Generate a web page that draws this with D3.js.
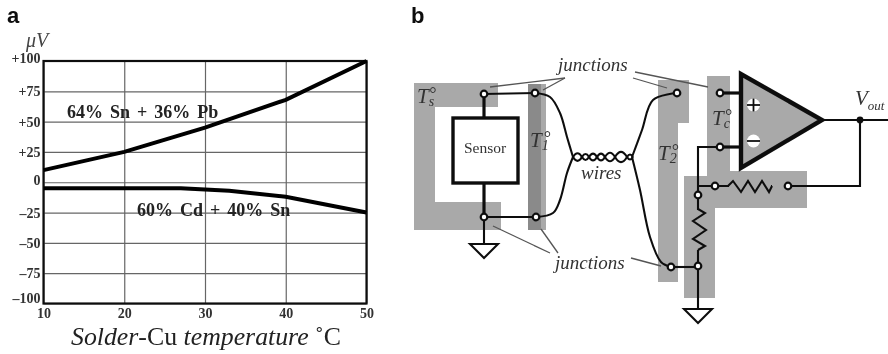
<!DOCTYPE html>
<html>
<head>
<meta charset="utf-8">
<style>
  html, body { margin: 0; padding: 0; background: #fff; }
  svg { display: block; }
  text { font-family: "Liberation Serif", serif; fill: #222; }
</style>
</head>
<body>
<div id="canvas"></div>
<script src="https://cdn.jsdelivr.net/npm/d3@7"></script>
<script>
// constants
const width = 888;
const height = 354;

// chart data, panel a
const xTicks = [10, 20, 30, 40, 50];
const yTicks = [100, 75, 50, 25, 0, -25, -50, -75, -100];
const snPbTemp = [10, 20, 30, 40, 50];
const snPbVolt = [10, 25, 45, 68, 100];
const cdSnTemp = [10, 20, 27, 30, 33, 40, 50];
const cdSnVolt = [-5, -5, -5, -6, -7, -12, -25];
const snPbLabel = '64% Sn + 36% Pb';
const cdSnLabel = '60% Cd + 40% Sn';

const svg = d3.select('#canvas')
    .append('svg').attr('width', width).attr('height', height);

// the source is a soft scan
const blur = svg.append('defs').append('filter').attr('id', 'soft')
    .attr('filterUnits', 'userSpaceOnUse')
    .attr('x', 0).attr('y', 0)
    .attr('width', width).attr('height', height);
blur.append('feGaussianBlur').attr('stdDeviation', 0.6);
const root = svg.append('g').attr('filter', 'url(#soft)');

root.append('rect').attr('width', width).attr('height', height).attr('fill', '#fff');

root.append('text').attr('x', 7).attr('y', 23)
    .style('font-family', '"Liberation Sans"').style('font-size', '22px').style('font-weight', 700)
    .style('fill', '#111').text('a');
root.append('text').attr('x', 411).attr('y', 23)
    .style('font-family', '"Liberation Sans"').style('font-size', '22px').style('font-weight', 700)
    .style('fill', '#111').text('b');

// ---- panel a
const xScale = d3.scaleLinear().domain([10, 50]).range([43.5, 366.5]);
const yScale = d3.scaleLinear().domain([-100, 100]).range([303.5, 61]);

const yAxis = d3.axisLeft(yScale)
    .tickValues(yTicks)
    .tickSize(-323)
    .tickPadding(3)
    .tickFormat(d => d > 0 ? '+' + d : (d < 0 ? '\u2013' + (-d) : '0'));
const xAxis = d3.axisBottom(xScale)
    .tickValues(xTicks)
    .tickSize(-242.5)
    .tickPadding(5);

const yG = root.append('g').attr('transform', 'translate(43.5,0)').call(yAxis);
const xG = root.append('g').attr('transform', 'translate(0,303.5)').call(xAxis);
[yG, xG].forEach(g => {
    g.select('.domain').remove();
    g.selectAll('line').attr('stroke', '#666').attr('stroke-width', 1.2);
    g.selectAll('text')
        .style('font-family', '"Liberation Serif"').style('font-size', '14px')
        .style('font-weight', 700).style('fill', '#333');
});
// some labels sit off their grid line in the source
yG.selectAll('text').attr('dy', d => d === 100 ? '0.12em' : d === 0 ? '0.17em' : d === -100 ? '-0.06em' : '0.32em');

root.append('rect')
    .attr('x', 43.5).attr('y', 61).attr('width', 323).attr('height', 242.5)
    .attr('fill', 'none').attr('stroke', '#111').attr('stroke-width', 2.2);

const voltLine = d3.line().x(d => xScale(d[0])).y(d => yScale(d[1]));
root.append('path').datum(d3.zip(snPbTemp, snPbVolt))
    .attr('d', voltLine).attr('fill', 'none').attr('stroke', '#000').attr('stroke-width', 4);
root.append('path').datum(d3.zip(cdSnTemp, cdSnVolt))
    .attr('d', voltLine).attr('fill', 'none').attr('stroke', '#000').attr('stroke-width', 4);

root.append('text').attr('x', 67).attr('y', 118)
    .style('font-size', '18px').style('font-weight', 700).style('word-spacing', '2.5px').text(snPbLabel);
root.append('text').attr('x', 137).attr('y', 216)
    .style('font-size', '18px').style('font-weight', 700).style('word-spacing', '2.5px').text(cdSnLabel);

root.append('text').attr('x', 26).attr('y', 47)
    .style('font-size', '20px').style('font-style', 'italic').style('fill', '#444').text('\u03bcV');

const xTitle = root.append('text').attr('x', 71).attr('y', 345)
    .style('font-size', '25.8px').style('fill', '#222');
xTitle.append('tspan').style('font-style', 'italic').text('Solder');
xTitle.append('tspan').text('-Cu ');
xTitle.append('tspan').style('font-style', 'italic').text('temperature ');
xTitle.append('tspan').text('\u02daC');

// ---- panel b, schematic
const ink = '#111';
const poly = (pts, fill) => root.append('polygon')
    .attr('points', pts.map(p => p.join(',')).join(' ')).attr('fill', fill);
const wire = (pts, w) => root.append('path')
    .attr('d', d3.line()(pts)).attr('fill', 'none').attr('stroke', ink)
    .attr('stroke-width', w || 2.1).attr('stroke-linejoin', 'miter');
const smooth = d3.line().curve(d3.curveCatmullRom.alpha(0.5));
const curve = pts => root.append('path')
    .attr('d', smooth(pts)).attr('fill', 'none').attr('stroke', ink).attr('stroke-width', 2.1);
const node = (x, y) => root.append('circle')
    .attr('cx', x).attr('cy', y).attr('r', 3.3)
    .attr('fill', '#fff').attr('stroke', ink).attr('stroke-width', 2.2);
const ground = (x, y) => root.append('polygon')
    .attr('points', `${x - 14},${y} ${x + 14},${y} ${x},${y + 14}`)
    .attr('fill', '#fff').attr('stroke', ink).attr('stroke-width', 2.1);
const leader = (a, b) => root.append('line')
    .attr('x1', a[0]).attr('y1', a[1]).attr('x2', b[0]).attr('y2', b[1])
    .attr('stroke', '#555').attr('stroke-width', 1.3);

// temperature zones
const zone = '#a9a9a9';
poly([[414, 83], [498, 83], [498, 107], [435, 107], [435, 202], [501, 202], [501, 230], [414, 230]], zone);
poly([[528, 84], [546, 84], [546, 230], [528, 230]], zone);
poly([[528, 84], [541, 84], [541, 230], [528, 230]], '#8a8a8a');
poly([[658, 80], [689, 80], [689, 123], [678, 123], [678, 282], [658, 282]], zone);
poly([[684, 176], [707, 176], [707, 76], [730, 76], [730, 171], [807, 171], [807, 208], [715, 208], [715, 298], [684, 298]], zone);

// sensor and its leads
wire([[484, 94], [484, 117]], 3.2);
wire([[484, 183], [484, 217]], 3.2);
wire([[484, 217], [484, 244]]);
wire([[484, 94], [535, 93]]);
wire([[484, 217], [536, 217]]);
root.append('rect').attr('x', 453).attr('y', 118).attr('width', 65).attr('height', 65)
    .attr('fill', '#fff').attr('stroke', ink).attr('stroke-width', 3.4);
ground(484, 244);

// wires to the amplifier
curve([[535, 93], [550, 97], [560, 113], [567, 137], [573, 157]]);
curve([[536, 217], [553, 213], [560, 200], [567, 173], [573, 157]]);
curve([[677, 93], [653, 100], [642, 130], [632, 157]]);
curve([[671, 267], [661, 262], [650, 237], [640, 190], [632, 157]]);

// twisted pair
const twist = [573, 582, 589, 597, 605, 615, 627, 633];
const twistPath = (sign) => {
    const p = d3.path();
    p.moveTo(twist[0], 157);
    twist.slice(1).forEach((x, i) => {
        const prev = twist[i];
        const up = i % 2 === 0 ? sign : -sign;
        p.quadraticCurveTo((prev + x) / 2, 157 + up * (x - prev) * 0.85, x, 157);
    });
    return p.toString();
};
[1, -1].forEach(s => root.append('path').attr('d', twistPath(s))
    .attr('fill', 'none').attr('stroke', ink).attr('stroke-width', 2.1));

// amplifier
wire([[720, 93], [741, 93]], 3.2);
wire([[720, 147], [741, 147]], 3.2);
wire([[720, 147], [698, 147], [698, 267]]);
wire([[671, 267], [698, 267]]);
wire([[698, 267], [698, 309]]);
poly([[741, 74], [741, 168], [822, 120]], zone).attr('stroke', ink).attr('stroke-width', 4.4);
wire([[822, 120], [888, 120]]);
wire([[860, 120], [860, 186], [788, 186]]);
root.append('circle').attr('cx', 860).attr('cy', 120).attr('r', 3.4).attr('fill', ink);

root.append('circle').attr('cx', 753.5).attr('cy', 105).attr('r', 6.5).attr('fill', '#fff');
root.append('circle').attr('cx', 753.5).attr('cy', 141).attr('r', 6.5).attr('fill', '#fff');
wire([[747, 105], [760, 105]], 1.8);
wire([[753.5, 98.5], [753.5, 111.5]], 1.8);
wire([[747, 141], [760, 141]], 1.8);

// resistors, painted over the straight wire with the zone colour underneath
root.append('line').attr('x1', 698).attr('y1', 210).attr('x2', 698).attr('y2', 250)
    .attr('stroke', zone).attr('stroke-width', 4);
wire([[698, 186], [772, 186]]);
root.append('line').attr('x1', 729).attr('y1', 186).attr('x2', 771).attr('y2', 186)
    .attr('stroke', zone).attr('stroke-width', 4);
wire([[698, 209], [705, 213], [693, 221], [706, 230], [693, 239], [705, 246], [698, 250]]);
wire([[728, 186], [733, 181], [741, 192], [748, 181], [755, 192], [762, 181], [769, 192], [772, 186]]);

ground(698, 309);
[[484, 94], [535, 93], [484, 217], [536, 217], [677, 93], [671, 267], [720, 93], [720, 147],
    [698, 195], [698, 266], [715, 186], [788, 186]].forEach(p => node(p[0], p[1]));

// call-outs
leader([490, 87], [565, 78]);
leader([543, 90], [565, 78]);
leader([635, 72], [708, 87]);
leader([633, 78], [667, 88]);
leader([493, 226], [550, 253]);
leader([541, 229], [558, 253]);
leader([631, 258], [661, 266]);

const italic = (x, y, size, t) => root.append('text').attr('x', x).attr('y', y)
    .style('font-size', size + 'px').style('font-style', 'italic').style('fill', '#333').text(t);
italic(558, 71, 19, 'junctions');
italic(555, 269, 19, 'junctions');
italic(581, 179, 19, 'wires');

root.append('text').attr('x', 485).attr('y', 153).attr('text-anchor', 'middle')
    .style('font-size', '15.5px').style('fill', '#333').text('Sensor');

// temperature labels, T with degree mark and subscript in one text
const tempLabel = (x, y, sub) => {
    const t = italic(x, y, 21, 'T');
    t.append('tspan').attr('dy', 3).style('font-size', '14px').text(sub);
    t.append('tspan').attr('dy', -6).attr('dx', -5.5).style('font-size', '18px').text('\u00b0');
};
tempLabel(417, 103, 's');
tempLabel(530, 147, '1');
tempLabel(658, 160, '2');
tempLabel(712, 125, 'c');

const vOut = italic(855, 105, 21, 'V');
vOut.append('tspan').attr('dy', 5).style('font-size', '13px').text('out');
</script>
</body>
</html>
